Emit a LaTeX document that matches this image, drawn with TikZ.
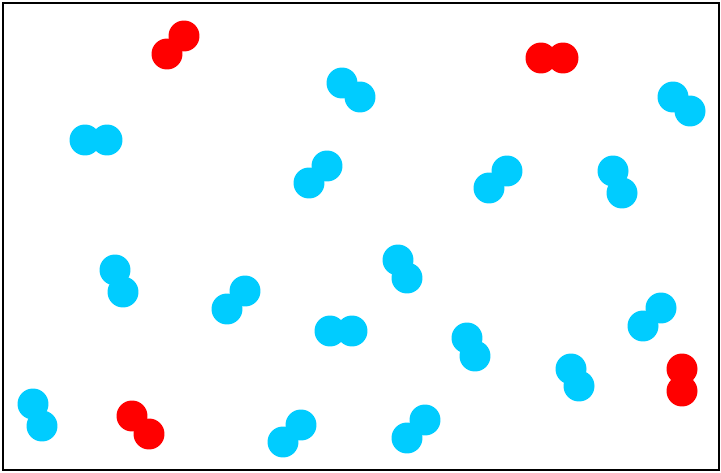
\documentclass[tikz,border=0pt]{standalone}
\usepackage{xcolor}
\usepackage{tikz}
\definecolor{molblue}{RGB}{0,204,255}
\definecolor{molred}{RGB}{255,0,0}

\begin{document}
\begin{tikzpicture}[x=0.02cm, y=-0.02cm,
    atom/.style={circle, draw=none, inner sep=0pt, minimum size=0.62cm},
    blue atom/.style={atom, fill=molblue},
    red atom/.style={atom, fill=molred},
    box/.style={draw=black, line width=1.2pt}
    ]
    \useasboundingbox (0,0) rectangle (721,473);
    \draw[box] (3,3) rectangle (719,470);

    % red molecules
    \node[red atom] (r1a) at (184,36) {};
    \node[red atom] (r1b) at (167,54) {};
    \node[red atom] (r2a) at (541,58) {};
    \node[red atom] (r2b) at (563,58) {};
    \node[red atom] (r3a) at (132,416) {};
    \node[red atom] (r3b) at (149,434) {};
    \node[red atom] (r4a) at (682,369) {};
    \node[red atom] (r4b) at (682,391) {};

    % blue molecules
    \node[blue atom] (b1a) at (85,140) {};
    \node[blue atom] (b1b) at (107,140) {};
    \node[blue atom] (b2a) at (342,83) {};
    \node[blue atom] (b2b) at (360,97) {};
    \node[blue atom] (b3a) at (327,166) {};
    \node[blue atom] (b3b) at (309,183) {};
    \node[blue atom] (b4a) at (507,171) {};
    \node[blue atom] (b4b) at (489,188) {};
    \node[blue atom] (b5a) at (613,171) {};
    \node[blue atom] (b5b) at (622,193) {};
    \node[blue atom] (b6a) at (673,97) {};
    \node[blue atom] (b6b) at (690,111) {};
    \node[blue atom] (b7a) at (115,270) {};
    \node[blue atom] (b7b) at (123,292) {};
    \node[blue atom] (b8a) at (245,291) {};
    \node[blue atom] (b8b) at (227,309) {};
    \node[blue atom] (b9a) at (330,331) {};
    \node[blue atom] (b9b) at (352,331) {};
    \node[blue atom] (b10a) at (398,260) {};
    \node[blue atom] (b10b) at (407,278) {};
    \node[blue atom] (b11a) at (467,338) {};
    \node[blue atom] (b11b) at (475,356) {};
    \node[blue atom] (b12a) at (571,369) {};
    \node[blue atom] (b12b) at (579,386) {};
    \node[blue atom] (b13a) at (661,308) {};
    \node[blue atom] (b13b) at (643,326) {};
    \node[blue atom] (b14a) at (33,404) {};
    \node[blue atom] (b14b) at (42,426) {};
    \node[blue atom] (b15a) at (301,425) {};
    \node[blue atom] (b15b) at (283,442) {};
    \node[blue atom] (b16a) at (425,420) {};
    \node[blue atom] (b16b) at (407,438) {};
\end{tikzpicture}
\end{document}
